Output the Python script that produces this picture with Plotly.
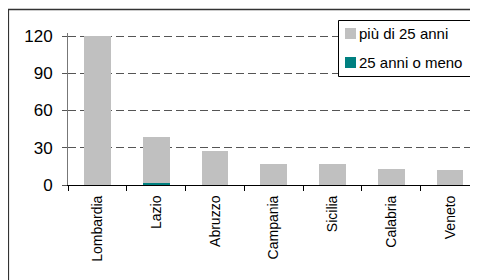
import plotly.graph_objects as go

categories = ["Lombardia", "Lazio", "Abruzzo", "Campania", "Sicilia", "Calabria", "Veneto"]
under25 = [0, 2, 0, 0, 0, 0, 0]
over25 = [120, 37, 27, 17, 17, 13, 12]
series_names = ["25 anni o meno", "più di 25 anni"]
series_colors = ["#008080", "#C0C0C0"]
ytick_vals = [0, 30, 60, 90, 120]

FONT = "Liberation Sans, Arial, sans-serif"

# plot area geometry in figure pixels
L, T, W, H = 60, 25, 408, 152
B = T + H


def xp(px):
    return (px - L) / W


def yp(py):
    return (B - py) / H


fig = go.Figure()
fig.add_trace(go.Bar(x=categories, y=under25, name=series_names[0],
                     marker=dict(color=series_colors[0], line=dict(width=0))))
fig.add_trace(go.Bar(x=categories, y=over25, name=series_names[1],
                     marker=dict(color=series_colors[1], line=dict(width=0))))

shapes = [
    # outer chart border
    dict(type="rect", xref="paper", yref="paper",
         x0=xp(0.3), x1=2, y0=-2, y1=yp(1.5),
         line=dict(color="#333333", width=1.6), fillcolor="rgba(0,0,0,0)", layer="below"),
    # legend box
    dict(type="rect", xref="paper", yref="paper",
         x0=xp(330.5), x1=xp(466.5), y0=yp(68.5), y1=yp(12.5),
         line=dict(color="black", width=1), fillcolor="white", layer="above"),
]
annotations = []
# legend entries: top entry is the upper stacked series
legend_rows = [(series_names[1], series_colors[1], 25.5), (series_names[0], series_colors[0], 54.5)]
for name, color, cy in legend_rows:
    shapes.append(dict(type="rect", xref="paper", yref="paper",
                       x0=xp(337), x1=xp(348), y0=yp(cy + 5.5), y1=yp(cy - 5.5),
                       line=dict(width=0), fillcolor=color, layer="above"))
    annotations.append(dict(xref="paper", yref="paper", x=xp(348.5), y=yp(cy),
                            xanchor="left", yanchor="middle", text=name, showarrow=False,
                            font=dict(size=15, family=FONT, color="black")))

fig.update_layout(
    width=478, height=280,
    margin=dict(l=L, r=478 - L - W, t=T, b=280 - B, pad=0),
    paper_bgcolor="white", plot_bgcolor="white",
    barmode="stack", bargap=0.546,
    font=dict(family=FONT, color="black", size=15),
    showlegend=False,
    shapes=shapes, annotations=annotations,
)
fig.update_xaxes(
    type="category", range=[-0.5, 6.44], automargin=False,
    showline=True, linecolor="black", linewidth=1,
    ticks="outside", tickson="boundaries", ticklen=5, tickcolor="black",
    tickangle=-90, tickfont=dict(size=14, family=FONT), ticklabelstandoff=4,
    showgrid=False,
)
fig.update_yaxes(
    range=[0, H / 1.2417], tickvals=ytick_vals, automargin=False,
    showline=True, linecolor="#777777", linewidth=1,
    ticks="outside", ticklen=5, tickcolor="#555555",
    tickfont=dict(size=17, family=FONT), ticklabelstandoff=6,
    showgrid=True, gridcolor="#555555", gridwidth=1, griddash="8px,4px",
    zeroline=False,
)
fig.write_html("out.html")
